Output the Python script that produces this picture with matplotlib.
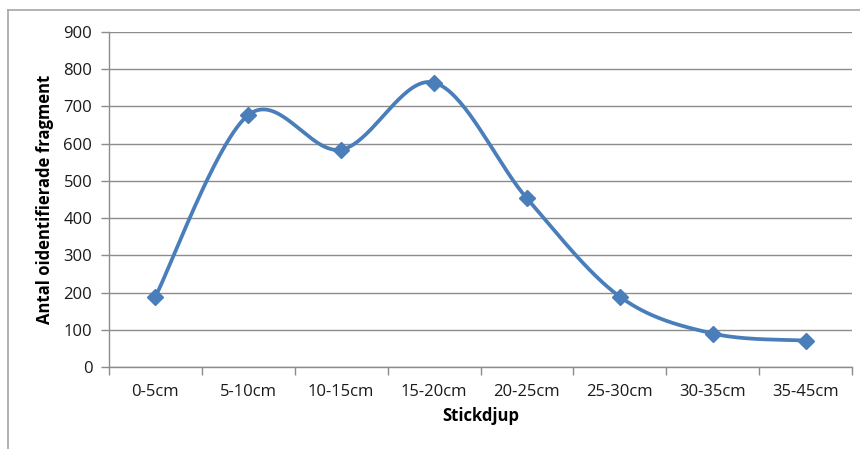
import numpy as np
import matplotlib.pyplot as plt
from matplotlib.lines import Line2D

# data
depths = ['0-5cm', '5-10cm', '10-15cm', '15-20cm', '20-25cm', '25-30cm', '30-35cm', '35-45cm']
counts = [189, 677, 584, 764, 453, 189, 90, 71]

yTicks = [0, 100, 200, 300, 400, 500, 600, 700, 800, 900]
lineColor = '#4A7EBB'
gridColor = '#8C8C8C'

plt.rcParams['font.family'] = ['Open Sans', 'DejaVu Sans']


# Excel-like smoothed line: Catmull-Rom curve through the points as cubic beziers
def smoothCurve(x, y, steps=40):
    x = np.asarray(x, dtype=float)
    y = np.asarray(y, dtype=float)
    px = np.concatenate([[x[0]], x, [x[-1]]])
    py = np.concatenate([[y[0]], y, [y[-1]]])
    t = np.linspace(0, 1, steps)
    xs, ys = [], []
    for i in range(1, len(px) - 2):
        p0 = np.array([px[i], py[i]])
        p3 = np.array([px[i + 1], py[i + 1]])
        p1 = p0 + (np.array([px[i + 1], py[i + 1]]) - np.array([px[i - 1], py[i - 1]])) / 6.0
        p2 = p3 - (np.array([px[i + 2], py[i + 2]]) - np.array([px[i], py[i]])) / 6.0
        b = ((1 - t) ** 3)[:, None] * p0 + (3 * (1 - t) ** 2 * t)[:, None] * p1 \
            + (3 * (1 - t) * t ** 2)[:, None] * p2 + (t ** 3)[:, None] * p3
        xs.extend(b[:, 0])
        ys.extend(b[:, 1])
    return np.array(xs), np.array(ys)


fig = plt.figure(figsize=(8.6, 4.49), dpi=100)
ax = fig.add_axes([109 / 860, 1 - 367 / 449, 743 / 860, 335 / 449])

# outer chart frame (only left and top visible in the crop)
fig.add_artist(Line2D([8 / 860, 8 / 860], [0, 1 - 10 / 449], transform=fig.transFigure, color='#A6A6A6', lw=1.2))
fig.add_artist(Line2D([8 / 860, 1], [1 - 10 / 449, 1 - 10 / 449], transform=fig.transFigure, color='#A6A6A6', lw=1.2))

xPos = np.arange(len(depths))
sx, sy = smoothCurve(xPos, counts)
ax.plot(sx, sy, color=lineColor, lw=2.7, solid_capstyle='round', zorder=3)
ax.plot(xPos, counts, linestyle='none', marker='D', markersize=8.5, color=lineColor, zorder=4)

ax.set_xlim(-0.5, len(depths) - 0.5)
ax.set_ylim(0, 900)
ax.set_yticks(yTicks)
ax.yaxis.grid(True, color=gridColor, lw=1.0)
ax.set_axisbelow(True)

# category ticks sit on the boundaries, labels in the middle
ax.set_xticks(np.arange(-0.5, len(depths), 1.0))
ax.set_xticklabels([])
ax.set_xticks(xPos, minor=True)
ax.set_xticklabels(depths, minor=True)
ax.tick_params(axis='x', which='major', length=6, color=gridColor, width=1.0)
ax.tick_params(axis='x', which='minor', length=0, pad=12, labelsize=12, labelcolor='#1a1a1a')
ax.tick_params(axis='y', length=6, color=gridColor, width=1.0, pad=6, labelsize=12, labelcolor='#1a1a1a')

for side in ['top', 'right']:
    ax.spines[side].set_visible(False)
for side in ['left', 'bottom']:
    ax.spines[side].set_color(gridColor)
    ax.spines[side].set_linewidth(1.0)

ax.set_ylabel('Antal oidentifierade fragment', fontweight='bold', fontsize=12, labelpad=7)
ax.set_xlabel('Stickdjup', fontweight='bold', fontsize=12, labelpad=5)

fig.savefig('out.png', dpi=100)
